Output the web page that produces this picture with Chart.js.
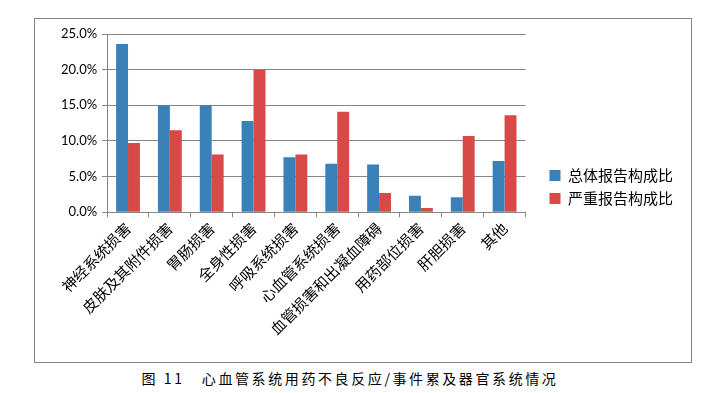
<!DOCTYPE html>
<html>
<head>
<meta charset="utf-8">
<script src="https://cdn.jsdelivr.net/npm/chart.js@4"></script>
<style>
  body { margin: 0; background: #fff; width: 713px; height: 393px; position: relative; overflow: hidden; }
  #box { position: absolute; left: 34px; top: 18px; width: 656px; height: 343px; border: 1px solid #868686; }
  #caption { position: absolute; left: 0; width: 700px; top: 368px; text-align: center;
    font-family: "Noto Sans CJK SC", sans-serif; font-size: 14px; letter-spacing: 2.6px; color: #000; }
</style>
</head>
<body>
<div id="box"><canvas id="chart" width="656" height="343"></canvas></div>
<div id="caption">图 11&nbsp;&nbsp;&nbsp;心血管系统用药不良反应/事件累及器官系统情况</div>
<script>
var categories = ['神经系统损害', '皮肤及其附件损害', '胃肠损害', '全身性损害', '呼吸系统损害',
  '心血管系统损害', '血管损害和出凝血障碍', '用药部位损害', '肝胆损害', '其他'];
var totalShare = [23.6, 15.0, 15.0, 12.8, 7.7, 6.8, 6.7, 2.3, 2.1, 7.2];
var seriousShare = [9.7, 11.5, 8.1, 20.0, 8.1, 14.1, 2.7, 0.6, 10.7, 13.6];
var seriesNames = ['总体报告构成比', '严重报告构成比'];
var yTicks = [0, 5, 10, 15, 20, 25];

var gridColor = '#868686';
var cjk = '"Noto Sans CJK SC", sans-serif';
var legendGap = 16; // extra room between plot and legend

// widen the legend box and push it right, so the gap sits left of the items
var legendGapPlugin = {
  id: 'legendGap',
  beforeLayout: function(chart) {
    var lg = chart.legend;
    if (lg && !lg._gapPatched) {
      var fit = lg.fit;
      lg.fit = function() {
        fit.call(this);
        this.width += legendGap;
      };
      lg._gapPatched = true;
    }
  },
  afterLayout: function(chart) {
    chart.legend.left += legendGap;
    chart.legend.right += legendGap;
  }
};

document.addEventListener('DOMContentLoaded', function() {
  new Chart(document.getElementById('chart'), {
    type: 'bar',
    data: {
      labels: categories,
      datasets: [{
        label: seriesNames[0],
        data: totalShare,
        backgroundColor: '#3a80b9'
      }, {
        label: seriesNames[1],
        data: seriousShare,
        backgroundColor: '#d84a48'
      }]
    },
    plugins: [legendGapPlugin],
    options: {
      responsive: false,
      animation: false,
      layout: {
        padding: { left: 21, top: 15, right: 8, bottom: 22 }
      },
      datasets: {
        bar: { categoryPercentage: 0.57, barPercentage: 1.0 }
      },
      plugins: {
        legend: {
          position: 'right',
          labels: {
            boxWidth: 11,
            boxHeight: 11,
            padding: 8,
            color: '#000',
            font: { family: cjk, size: 15 }
          }
        },
        tooltip: { enabled: false }
      },
      scales: {
        x: {
          grid: {
            drawOnChartArea: false,
            drawTicks: true,
            tickLength: 5,
            color: gridColor
          },
          border: { color: gridColor },
          ticks: {
            maxRotation: 45,
            minRotation: 45,
            autoSkip: false,
            color: '#000',
            padding: 2,
            font: { family: cjk, size: 15 }
          }
        },
        y: {
          min: 0,
          max: 25,
          afterBuildTicks: function(axis) {
            axis.ticks = yTicks.map(function(v) { return { value: v }; });
          },
          grid: {
            color: gridColor,
            tickLength: 5
          },
          border: { color: gridColor },
          ticks: {
            color: '#000',
            padding: 5,
            font: { family: 'Lato, "Liberation Sans", sans-serif', size: 13 },
            callback: function(v) { return v.toFixed(1) + '%'; }
          }
        }
      }
    }
  });
});
</script>
</body>
</html>
